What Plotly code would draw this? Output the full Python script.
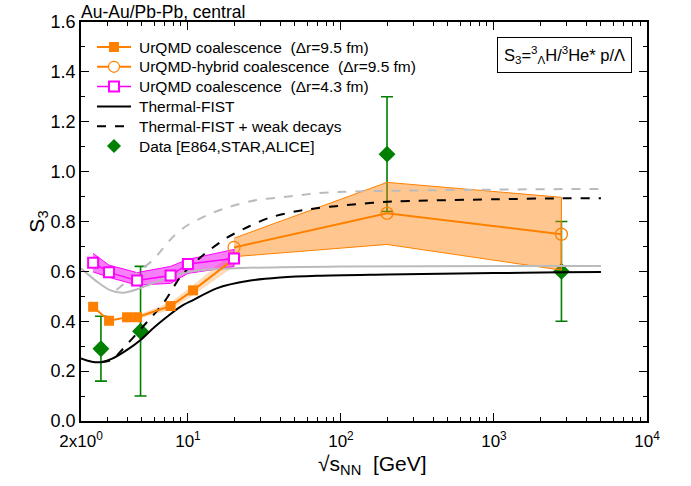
import plotly.graph_objects as go
import numpy as np

# ---------------- data ----------------
# UrQMD coalescence (dr = 9.5 fm), filled squares
E_urqmd = [2.4, 3.05, 4.0, 4.65, 7.7, 10.8, 20.0]
S_urqmd = [0.458, 0.402, 0.416, 0.416, 0.461, 0.524, 0.650]
E_urqmd_band = [4.65, 7.7, 10.8, 20.0]
lo_urqmd_band = [0.408, 0.446, 0.504, 0.620]
hi_urqmd_band = [0.424, 0.476, 0.544, 0.680]

# UrQMD-hybrid coalescence (dr = 9.5 fm), open circles
E_hyb = [20.0, 200.0, 2760.0]
S_hyb = [0.696, 0.833, 0.749]
lo_hyb = [0.659, 0.708, 0.605]
hi_hyb = [0.733, 0.957, 0.897]

# UrQMD coalescence (dr = 4.3 fm), open magenta squares
E_mag = [2.4, 3.05, 4.65, 7.7, 10.0, 20.0]
S_mag = [0.635, 0.596, 0.563, 0.583, 0.630, 0.652]
lo_mag = [0.598, 0.576, 0.545, 0.552, 0.592, 0.619]
hi_mag = [0.672, 0.625, 0.595, 0.620, 0.648, 0.688]

# Thermal-FIST (solid black)
E_tf = [2.0, 2.35, 2.7, 3.2, 4.0, 4.9, 6.0, 7.3, 8.9, 10.8, 15.4, 25.0, 40.0, 70.0, 200.0, 1000.0, 2760.0, 5000.0]
S_tf = [0.251, 0.238, 0.236, 0.250, 0.285, 0.325, 0.375, 0.418, 0.458, 0.485, 0.532, 0.562, 0.575, 0.582, 0.587, 0.593, 0.596, 0.597]

# Thermal-FIST + weak decays (dashed black)
E_tfw = [2.7, 3.18, 3.78, 4.97, 6.9, 9.1, 12.6, 18.0, 25.0, 34.0, 50.0, 63.0, 109.0, 200.0, 1000.0, 2760.0, 5000.0]
S_tfw = [0.236, 0.245, 0.291, 0.372, 0.472, 0.585, 0.666, 0.735, 0.780, 0.815, 0.840, 0.850, 0.866, 0.879, 0.889, 0.893, 0.893]

# grey variants (not in legend)
E_gs = [2.0, 2.54, 3.09, 3.78, 4.86, 7.6, 11.4, 18.8, 100.0, 5000.0]
S_gs = [0.612, 0.559, 0.525, 0.514, 0.532, 0.579, 0.603, 0.612, 0.620, 0.622]
E_gd = [3.4, 4.2, 5.0, 5.9, 8.0, 10.0, 13.9, 18.8, 28.0, 44.0, 69.0, 104.0, 200.0, 2760.0, 5000.0]
S_gd = [0.525, 0.570, 0.610, 0.645, 0.739, 0.786, 0.830, 0.859, 0.886, 0.899, 0.913, 0.919, 0.923, 0.930, 0.930]

# Data [E864, STAR, ALICE]
E_data = [2.7, 4.9, 200.0, 2760.0]
S_data = [0.29, 0.36, 1.07, 0.60]
err_data = [0.13, 0.26, 0.23, 0.20]

x_tickvals = [2, 10, 100, 1000, 10000]
x_ticktext = ["2x10<sup>0</sup>", "10<sup>1</sup>", "10<sup>2</sup>", "10<sup>3</sup>", "10<sup>4</sup>"]
x_minor = [m * 10 ** d for d in range(0, 4) for m in range(2, 10) if m * 10 ** d > 2]
y_tickvals = [0.0, 0.2, 0.4, 0.6, 0.8, 1.0, 1.2, 1.4, 1.6]
y_ticktext = ["0.0", "0.2", "0.4", "0.6", "0.8", "1.0", "1.2", "1.4", "1.6"]

legend_labels = [
    "UrQMD coalescence\u00a0\u00a0(\u0394r=9.5 fm)",
    "UrQMD-hybrid coalescence\u00a0\u00a0(\u0394r=9.5 fm)",
    "UrQMD coalescence\u00a0\u00a0(\u0394r=4.3 fm)",
    "Thermal-FIST",
    "Thermal-FIST + weak decays",
    "Data [E864,STAR,ALICE]",
]

ORANGE = "#FF8000"
MAGENTA = "#FF00FF"
GREEN = "#007F00"
FONT = "Liberation Sans, Arial, sans-serif"

W, H = 691, 486
ML, MR, MT, MB = 81, 44, 22, 65
PW, PH = W - ML - MR, H - MT - MB

def px(x):
    return (x - ML) / PW

def py(y):
    return (H - MB - y) / PH

fig = go.Figure()

# data first (bands drawn over their error bars)
fig.add_trace(go.Scatter(
    x=E_data, y=S_data, mode="markers", name=legend_labels[5],
    marker=dict(symbol="diamond", size=13, color=GREEN),
    error_y=dict(type="data", array=err_data, color=GREEN, thickness=1.6, width=6)))

def band(E, lo, hi, fill, edge, ew):
    fig.add_trace(go.Scatter(
        x=list(E) + list(E)[::-1], y=list(hi) + list(lo)[::-1],
        mode="lines", fill="toself", fillcolor=fill,
        line=dict(color=edge, width=ew), hoverinfo="skip"))

band(E_urqmd_band, lo_urqmd_band, hi_urqmd_band, "rgba(255,128,0,0.28)", "rgba(255,128,0,0)", 0)
band(E_hyb, lo_hyb, hi_hyb, "rgba(255,128,0,0.44)", ORANGE, 1)
band(E_mag, lo_mag, hi_mag, "rgba(240,0,240,0.5)", MAGENTA, 1)

# grey curves
fig.add_trace(go.Scatter(x=E_gs, y=S_gs, mode="lines",
                         line=dict(color="#BBBBBB", width=2, shape="spline", smoothing=0.8)))
fig.add_trace(go.Scatter(x=E_gd, y=S_gd, mode="lines",
                         line=dict(color="#BBBBBB", width=2, dash="dash", shape="spline", smoothing=0.8)))

# thermal-FIST
fig.add_trace(go.Scatter(x=E_tf, y=S_tf, mode="lines", name=legend_labels[3],
                         line=dict(color="black", width=2, shape="spline", smoothing=0.8)))
fig.add_trace(go.Scatter(x=E_tfw, y=S_tfw, mode="lines", name=legend_labels[4],
                         line=dict(color="black", width=2, dash="dash", shape="spline", smoothing=0.8)))

# UrQMD series
fig.add_trace(go.Scatter(x=E_urqmd, y=S_urqmd, mode="lines+markers", name=legend_labels[0],
                         line=dict(color=ORANGE, width=2),
                         marker=dict(symbol="square", size=10, color=ORANGE)))
fig.add_trace(go.Scatter(x=E_hyb, y=S_hyb, mode="lines+markers", name=legend_labels[1],
                         line=dict(color=ORANGE, width=2),
                         marker=dict(symbol="circle-open", size=12, color=ORANGE, line=dict(width=1.2))))
fig.add_trace(go.Scatter(x=E_mag, y=S_mag, mode="lines+markers", name=legend_labels[2],
                         line=dict(color=MAGENTA, width=1.5),
                         marker=dict(symbol="square", size=10, color="white", line=dict(color=MAGENTA, width=2))))

fig.update_layout(
    width=W, height=H,
    margin=dict(l=ML, r=MR, t=MT, b=MB),
    paper_bgcolor="white", plot_bgcolor="white",
    font=dict(family=FONT, color="black", size=15),
    showlegend=False,
    xaxis=dict(type="log", range=[np.log10(2), 4], showgrid=False, zeroline=False,
               showline=True, linecolor="black", linewidth=1.5, mirror="ticks",
               ticks="inside", ticklen=8, tickwidth=1.3, tickcolor="black",
               tickmode="array", tickvals=x_tickvals, ticktext=x_ticktext,
               tickfont=dict(size=17), ticklabelstandoff=4,
               minor=dict(tickmode="array", tickvals=x_minor, ticks="inside",
                          ticklen=4, tickwidth=1.3, tickcolor="black")),
    yaxis=dict(range=[0, 1.6], showgrid=False, zeroline=False,
               showline=True, linecolor="black", linewidth=1.5, mirror="ticks",
               ticks="inside", ticklen=8, tickwidth=1.3, tickcolor="black",
               tickmode="array", tickvals=y_tickvals, ticktext=y_ticktext,
               tickfont=dict(size=18),
               minor=dict(dtick=0.1, ticks="inside", ticklen=4, tickwidth=1.3, tickcolor="black")),
)

# ---------------- hand-made legend (paper coords) ----------------
row_y = [47 + 19.8 * i for i in range(6)]
x0s, x1s, xc, xt = 97, 131, 114, 137
styles = [
    dict(color=ORANGE, dash="solid", width=2, marker="square_filled"),
    dict(color=ORANGE, dash="solid", width=2, marker="circle_open"),
    dict(color=MAGENTA, dash="solid", width=1.5, marker="square_open"),
    dict(color="black", dash="solid", width=2, marker=None),
    dict(color="black", dash="dash", width=2, marker=None),
    dict(color=GREEN, dash=None, width=0, marker="diamond"),
]
shapes = []
for yy, st, lab in zip(row_y, styles, legend_labels):
    if st["dash"] is not None:
        shapes.append(dict(type="line", xref="paper", yref="paper",
                           x0=px(x0s), x1=px(x1s), y0=py(yy), y1=py(yy),
                           line=dict(color=st["color"], width=st["width"], dash=st["dash"])))
    m = st["marker"]
    if m == "square_filled":
        shapes.append(dict(type="rect", xref="paper", yref="paper",
                           x0=px(xc - 5), x1=px(xc + 5), y0=py(yy + 5), y1=py(yy - 5),
                           fillcolor=ORANGE, line=dict(color=ORANGE, width=0)))
    elif m == "circle_open":
        shapes.append(dict(type="circle", xref="paper", yref="paper",
                           x0=px(xc - 5.5), x1=px(xc + 5.5), y0=py(yy + 5.5), y1=py(yy - 5.5),
                           fillcolor="white", line=dict(color=ORANGE, width=1.2)))
    elif m == "square_open":
        shapes.append(dict(type="rect", xref="paper", yref="paper",
                           x0=px(xc - 5), x1=px(xc + 5), y0=py(yy + 5), y1=py(yy - 5),
                           fillcolor="white", line=dict(color=MAGENTA, width=2)))
    elif m == "diamond":
        d = 7
        path = "M {a},{b} L {c},{e} L {a},{f} L {g},{e} Z".format(
            a=px(xc), b=py(yy - d), c=px(xc + d), e=py(yy), f=py(yy + d), g=px(xc - d))
        shapes.append(dict(type="path", xref="paper", yref="paper", path=path,
                           fillcolor=GREEN, line=dict(color=GREEN, width=0)))
    fig.add_annotation(xref="paper", yref="paper", x=px(xt), y=py(yy), xanchor="left",
                       yanchor="middle", text=lab, showarrow=False, font=dict(size=15.5))
fig.update_layout(shapes=shapes)

fig.add_annotation(xref="paper", yref="paper", x=-0.003, y=1.0, xanchor="left", yanchor="bottom",
                   text="Au-Au/Pb-Pb, central", showarrow=False, font=dict(size=17.5), yshift=-2)
fig.add_annotation(xref="paper", yref="paper", x=-0.104, y=0.5, textangle=-90,
                   text="S<sub>3</sub>", showarrow=False, font=dict(size=21))
fig.add_annotation(xref="paper", yref="paper", x=0.5, y=-0.11, yanchor="middle",
                   text="\u221as<sub>NN</sub>\u00a0\u00a0[GeV]", showarrow=False, font=dict(size=21), xshift=8)
fig.add_annotation(xref="paper", yref="paper", x=px(632), y=py(37), xanchor="right", yanchor="top",
                   text="S<sub>3</sub>=<sup>3</sup><sub>\u039b</sub>H/<sup>3</sup>He* p/\u039b",
                   showarrow=False, font=dict(size=16.5), bordercolor="black", borderwidth=1,
                   borderpad=6, bgcolor="white")

fig.write_html("out.html")
